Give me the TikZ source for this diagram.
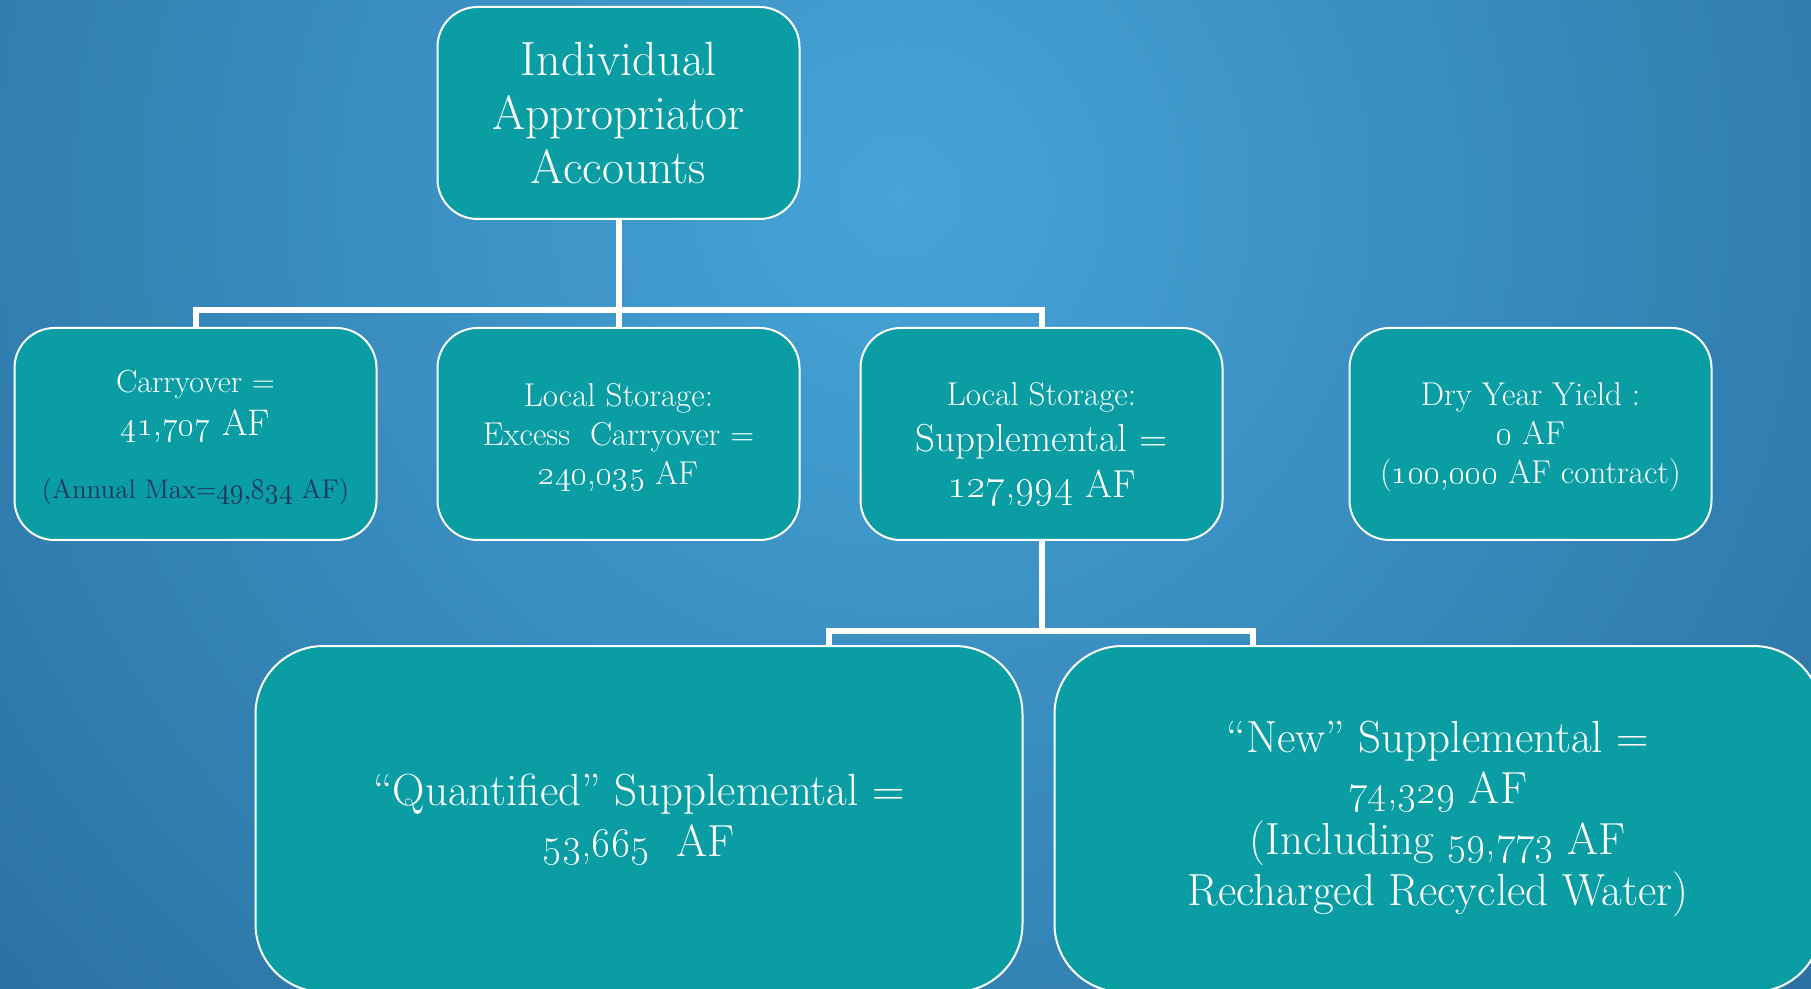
\documentclass[tikz,border=0pt]{standalone}
\usetikzlibrary{positioning}

\definecolor{boxteal}{HTML}{0A9DA4}
\definecolor{bglight}{HTML}{46A4D8}
\definecolor{bgdark}{HTML}{1C5786}
\definecolor{notenavy}{HTML}{1F3461}
\newcommand{\onum}[1]{\oldstylenums{#1}}

\tikzset{
	acct/.style={draw=white, line width=1pt, fill=boxteal, text=white, align=center,
		rounded corners=20pt, minimum width=181pt, minimum height=106pt, inner sep=0pt},
	bigacct/.style={acct, rounded corners=34pt, minimum width=383.5pt, minimum height=173pt},
	link/.style={draw=white, line width=3pt},
}

\begin{document}
\begin{tikzpicture}[x=0.5pt, y=-0.5pt]
	\useasboundingbox (0,0) rectangle (1811,989);
	\begin{scope}
		\clip (0,0) rectangle (1811,989);
		\shade[inner color=bglight, outer color=bgdark] (900,196) circle (1850);
	\end{scope}

	\node[acct, font=\fontsize{24}{27}\selectfont] (acct) at (618.5,113) {Individual\\Appropriator\\Accounts};
	\node[acct, below=53.5pt of acct, font=\fontsize{16.5}{19.5}\selectfont] (excess) {\rule{0pt}{15pt}Local Storage:\\Excess\ \ Carryover =\\\onum{240,035} AF};
	\node[acct, left=29.5pt of excess, font=\fontsize{16}{21.5}\selectfont] (carry) {\rule{0pt}{15pt}Carryover =\\{\fontsize{18.5}{21.5}\selectfont\onum{41,707} AF}\\[10pt]{\color{notenavy}\fontsize{13.5}{16}\selectfont(Annual Max=\onum{49,834} AF)}};
	\node[acct, right=29.5pt of excess, font=\fontsize{16.5}{23}\selectfont] (supp) {\rule{0pt}{22pt}Local Storage:\\{\fontsize{19.5}{23}\selectfont Supplemental =}\\{\fontsize{19.5}{23}\selectfont\onum{127,994} AF}};
	\node[acct, right=62.5pt of supp, font=\fontsize{16.5}{19.5}\selectfont] (dry) {\rule{0pt}{15pt}Dry Year Yield :\\\onum{0} AF\\(\onum{100,000} AF contract)};

	\node[bigacct, below=52pt of supp, xshift=-201.25pt, font=\fontsize{22.5}{25.5}\selectfont] (quant) {“Quantified” Supplemental =\\\onum{53,665}\ \ AF};
	\node[bigacct, right=15pt of quant, font=\fontsize{22.5}{25.5}\selectfont] (new) {“New” Supplemental =\\\onum{74,329} AF\\(Including \onum{59,773} AF\\Recharged Recycled Water)};

	% first level
	\coordinate (bus1) at ([yshift=-45pt]acct.south);
	\draw[link] (acct.south) -- (bus1);
	\draw[link] (carry.north) |- (bus1) -| (supp.north);
	\draw[link] (bus1) -- (excess.north);

	% second level
	\coordinate (bus2) at ([yshift=-45pt]supp.south);
	\coordinate (qtap) at ([xshift=-106.5pt]bus2);
	\coordinate (ntap) at ([xshift=105.5pt]bus2);
	\draw[link] (supp.south) -- (bus2);
	\draw[link] (qtap |- quant.north) |- (bus2) -| (ntap |- new.north);
\end{tikzpicture}
\end{document}
